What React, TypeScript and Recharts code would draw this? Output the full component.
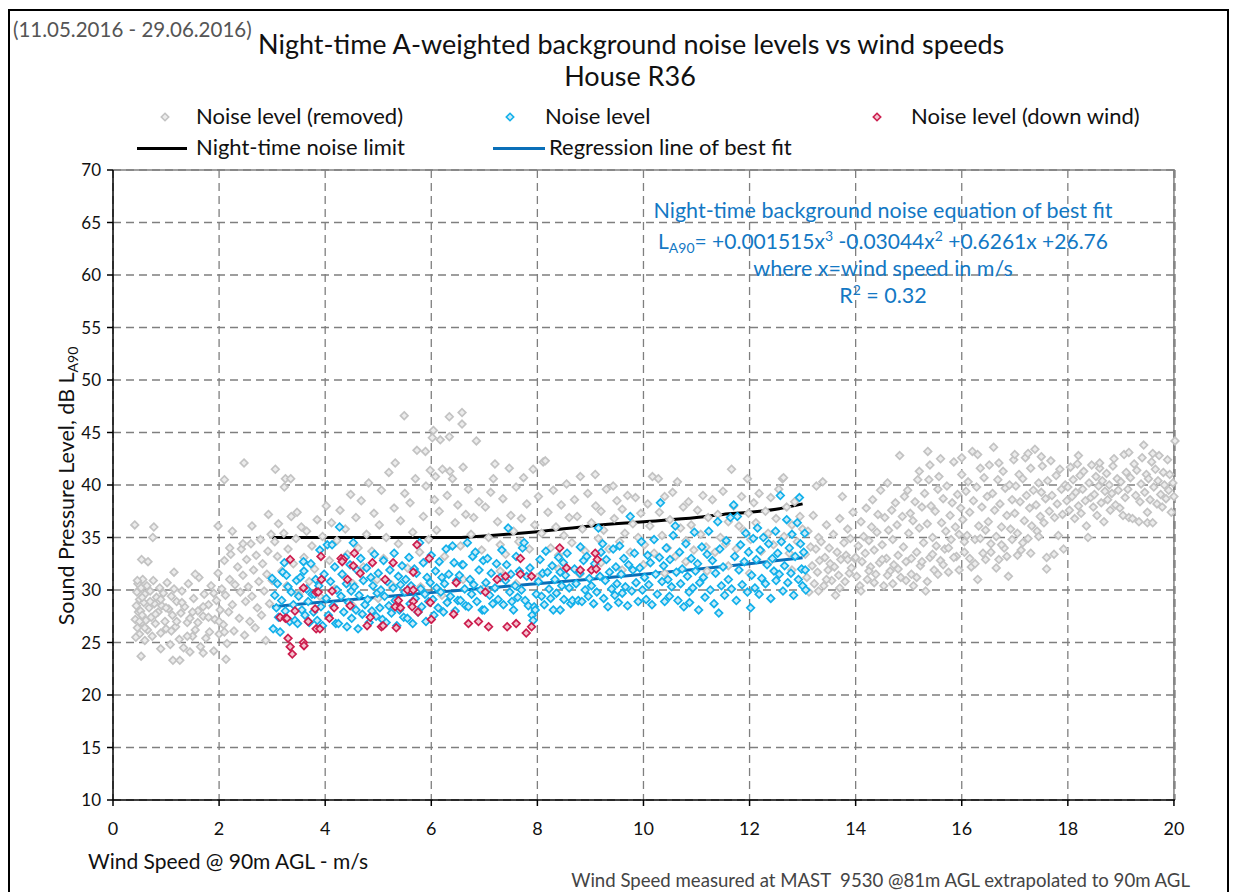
import React from "react"
import {
  ComposedChart,
  Scatter,
  Line,
  XAxis,
  YAxis,
  CartesianGrid,
  ReferenceLine,
} from "recharts"

// wind speed (m/s), LA90 (dB)
const removedPoints: [number, number][] = [
  [0.42, 27.2], [0.44, 28.5], [0.45, 29.8], [0.46, 26.4], [0.47, 30.6], [0.48, 27.9], [0.5, 25.8], [0.5, 29.1],
  [0.52, 28.0], [0.53, 30.2], [0.54, 26.9], [0.55, 27.6], [0.56, 31.0], [0.58, 28.8], [0.6, 25.2], [0.6, 29.6],
  [0.62, 27.1], [0.64, 30.4], [0.65, 26.2], [0.68, 28.3], [0.7, 29.9], [0.72, 27.4], [0.74, 25.6], [0.76, 30.9],
  [0.78, 28.7], [0.8, 26.8], [0.82, 29.3], [0.85, 27.9], [0.88, 30.2], [0.9, 25.9], [0.92, 28.5], [0.95, 29.7],
  [0.98, 27.0], [1.0, 26.3], [1.02, 30.7], [1.05, 28.2], [1.08, 24.8], [1.1, 29.4], [1.12, 27.6], [1.15, 30.1],
  [1.18, 26.5], [1.2, 28.9], [1.25, 25.3], [1.28, 27.8], [1.3, 29.9], [1.33, 24.5], [1.35, 28.4], [1.4, 26.9],
  [1.42, 30.6], [1.45, 27.3], [1.5, 25.6], [1.52, 29.2], [1.55, 26.2], [1.6, 28.0], [1.62, 31.2], [1.65, 24.6],
  [1.7, 27.5], [1.72, 29.6], [1.75, 25.4], [1.8, 28.6], [1.82, 26.0], [1.85, 30.4], [1.9, 24.2], [1.92, 27.2],
  [1.95, 29.0], [1.98, 31.6], [2.0, 25.8], [2.02, 28.1], [2.05, 30.1], [2.08, 26.7], [2.1, 32.8], [2.12, 29.5],
  [2.15, 24.9], [2.18, 27.9], [2.2, 31.0], [2.22, 33.4], [2.25, 28.6], [2.28, 26.1], [2.3, 30.5], [2.35, 32.2],
  [2.38, 27.3], [2.4, 29.8], [2.42, 33.9], [2.45, 31.4], [2.48, 25.7], [2.5, 28.9], [2.52, 32.9], [2.55, 30.3],
  [2.58, 27.0], [2.6, 34.4], [2.62, 29.4], [2.65, 31.9], [2.68, 26.4], [2.7, 33.3], [2.72, 28.3], [2.75, 30.8],
  [2.78, 34.8], [2.8, 27.6], [2.82, 32.5], [2.85, 29.9], [2.88, 25.2], [2.9, 31.5], [2.92, 33.7], [2.95, 28.7],
  [2.98, 35.3], [3.0, 30.9], [1.15, 31.7], [1.55, 31.5], [0.9, 24.4], [1.45, 24.1],
  [0.43, 25.5], [0.46, 30.9], [0.5, 27.0], [0.55, 29.3], [0.6, 26.4], [0.7, 28.9], [0.8, 27.7], [0.9, 29.1],
  [1.0, 28.3], [1.1, 26.1], [1.2, 27.0], [1.3, 28.8], [1.4, 25.6], [1.5, 27.9], [1.6, 26.9], [1.7, 28.4],
  [1.8, 27.4], [1.9, 29.7], [2.0, 27.0], [2.1, 26.0],
  [0.41, 36.2], [0.77, 36.0], [0.75, 35.0], [0.54, 32.9], [0.66, 32.7], [0.53, 23.7], [1.13, 23.3], [1.26, 23.3],
  [2.13, 23.4], [1.7, 24.0], [1.98, 36.1], [2.25, 35.6], [2.62, 36.1], [2.2, 34.0], [2.45, 34.4], [2.1, 40.5],
  [2.47, 42.1], [3.06, 41.5], [3.25, 40.6], [3.35, 40.6], [3.23, 39.8], [2.93, 37.2], [3.47, 37.4],
  [3.05, 34.6], [3.1, 33.2], [3.12, 36.3], [3.18, 31.8], [3.22, 35.4], [3.28, 30.4], [3.3, 33.9], [3.36, 37.0],
  [3.4, 32.5], [3.45, 34.9], [3.5, 29.6], [3.55, 36.0], [3.6, 33.1], [3.65, 35.6], [3.7, 30.8], [3.75, 34.2],
  [3.8, 32.0], [3.85, 36.7], [3.9, 29.4], [3.95, 35.1],
  [4.02, 38.0], [4.08, 32.8], [4.12, 36.4], [4.18, 30.1], [4.22, 34.7], [4.28, 37.6], [4.32, 31.5], [4.38, 35.8],
  [4.42, 33.4], [4.48, 39.1], [4.52, 30.6], [4.58, 36.9], [4.62, 34.0], [4.68, 38.5], [4.72, 32.2], [4.78, 35.3],
  [4.82, 40.2], [4.88, 33.7], [4.92, 37.3], [4.98, 31.0],
  [5.02, 36.2], [5.06, 39.5], [5.1, 33.0], [5.15, 35.0], [5.2, 41.2], [5.25, 30.5], [5.3, 37.8], [5.32, 42.1],
  [5.38, 34.4], [5.42, 36.6], [5.49, 46.6], [5.5, 39.2], [5.55, 32.1], [5.6, 38.3], [5.65, 35.5], [5.7, 40.6],
  [5.73, 43.3], [5.78, 33.6], [5.85, 37.0], [5.89, 43.2], [5.9, 39.9], [5.95, 34.8], [5.98, 41.4],
  [6.02, 44.5], [6.04, 45.2], [6.06, 38.6], [6.08, 40.8], [6.1, 35.7], [6.15, 37.5], [6.17, 44.3], [6.21, 41.5],
  [6.25, 33.2], [6.3, 39.0], [6.34, 46.5], [6.34, 44.6], [6.35, 41.3], [6.4, 40.6], [6.45, 36.4], [6.5, 38.1],
  [6.55, 34.2], [6.58, 46.9], [6.58, 45.8], [6.6, 41.7], [6.65, 37.2], [6.7, 39.6], [6.75, 35.3], [6.8, 36.9],
  [6.85, 44.2], [6.9, 38.4], [6.95, 33.8],
  [7.02, 37.9], [7.08, 35.0], [7.12, 39.3], [7.17, 40.6], [7.2, 42.0], [7.25, 36.5], [7.3, 34.3], [7.35, 38.7],
  [7.4, 33.4], [7.47, 41.6], [7.5, 37.1], [7.55, 35.6], [7.6, 39.8], [7.65, 34.6], [7.7, 36.8], [7.74, 40.7],
  [7.8, 38.2], [7.85, 33.9], [7.92, 41.5], [7.95, 36.2],
  [8.02, 38.9], [8.08, 35.4], [8.11, 42.2], [8.15, 42.3], [8.2, 37.4], [8.25, 34.0], [8.3, 39.5], [8.35, 36.0],
  [8.4, 33.3], [8.45, 38.1], [8.5, 35.2], [8.55, 40.1], [8.6, 36.9], [8.65, 34.5], [8.7, 38.6], [8.75, 37.0],
  [8.81, 40.8], [8.85, 35.8], [8.9, 33.7], [8.95, 39.2],
  [9.02, 36.4], [9.09, 41.0], [9.1, 38.0], [9.15, 34.9], [9.2, 37.5], [9.25, 35.7], [9.3, 39.6], [9.35, 33.9],
  [9.43, 39.9], [9.45, 36.8], [9.5, 38.5], [9.55, 34.6], [9.6, 37.7], [9.65, 35.4], [9.7, 39.0], [9.75, 33.6],
  [9.8, 36.3], [9.85, 38.8], [9.9, 35.0], [9.95, 37.3],
  [10.02, 34.3], [10.08, 38.2], [10.12, 36.1], [10.17, 40.8], [10.2, 33.5], [10.28, 40.6], [10.3, 37.4], [10.35, 35.2],
  [10.4, 38.9], [10.45, 34.0], [10.5, 36.7], [10.55, 39.3], [10.6, 33.2], [10.64, 40.3], [10.7, 35.9], [10.75, 37.9],
  [10.8, 34.7], [10.85, 38.4], [10.9, 36.2], [10.95, 33.8],
  [11.02, 37.6], [11.08, 35.3], [11.12, 39.0], [11.18, 34.1], [11.22, 36.9], [11.3, 38.6], [11.35, 33.6], [11.4, 37.2],
  [11.45, 35.0], [11.5, 39.4], [11.55, 34.4], [11.6, 36.5], [11.66, 41.5], [11.7, 38.0], [11.75, 33.9], [11.8, 36.1],
  [11.85, 38.9], [11.9, 35.6], [11.96, 40.6], [11.98, 37.3],
  [12.02, 34.8], [12.08, 38.3], [12.12, 36.4], [12.18, 39.2], [12.22, 33.7], [12.3, 37.5], [12.35, 35.4], [12.4, 38.8],
  [12.45, 34.3], [12.5, 36.8], [12.55, 39.6], [12.62, 40.6], [12.65, 35.1], [12.7, 37.9], [12.75, 33.5], [12.8, 36.2],
  [12.85, 38.4], [12.9, 34.6], [12.95, 37.0], [13.0, 35.8], [12.64, 40.7],
  [4.5, 28.6], [5.0, 29.2], [5.4, 28.2], [5.8, 30.3], [6.2, 29.5], [6.6, 31.0], [7.0, 30.2], [7.3, 31.8],
  [7.6, 30.6], [8.0, 31.2], [8.4, 32.0], [8.8, 31.5], [9.2, 32.6], [9.6, 31.9], [10.0, 32.4], [10.4, 31.6],
  [10.8, 32.7], [11.2, 31.8], [11.6, 32.3], [12.0, 31.6], [12.4, 32.8], [12.8, 31.9],
  [13.05, 33.4], [13.08, 31.2], [13.1, 35.6], [13.12, 29.8], [13.15, 34.1], [13.18, 32.3], [13.2, 37.1], [13.22, 30.6],
  [13.25, 33.9], [13.26, 39.9], [13.28, 31.7], [13.3, 35.0], [13.32, 32.8], [13.35, 34.6], [13.38, 40.3], [13.4, 30.4],
  [13.42, 33.1], [13.45, 36.2], [13.48, 31.9],
  [13.5, 34.0], [13.52, 32.5], [13.55, 30.9], [13.58, 35.3], [13.62, 29.5], [13.65, 33.6], [13.68, 31.4], [13.7, 36.8],
  [13.72, 32.9], [13.75, 38.9], [13.78, 34.5], [13.8, 30.8], [13.82, 33.3], [13.85, 35.8], [13.88, 31.6], [13.9, 34.9],
  [13.92, 32.1], [13.95, 37.4], [13.98, 33.0],
  [14.02, 31.3], [14.05, 34.2], [14.08, 30.4], [14.1, 36.5], [14.12, 32.7], [14.15, 35.1], [14.18, 33.5], [14.2, 37.8],
  [14.22, 31.0], [14.25, 34.7], [14.28, 32.2], [14.3, 36.0], [14.32, 38.6], [14.35, 33.8], [14.38, 31.5], [14.4, 35.5],
  [14.42, 37.2], [14.45, 32.6], [14.47, 39.5],
  [14.5, 34.3], [14.53, 30.4], [14.55, 36.9], [14.58, 33.0], [14.6, 40.2], [14.62, 35.7], [14.65, 31.8], [14.68, 37.6],
  [14.7, 34.8], [14.72, 32.4], [14.75, 38.3], [14.78, 36.2], [14.8, 33.3], [14.83, 42.8], [14.85, 31.2], [14.88, 37.0],
  [14.9, 34.1], [14.92, 38.9], [14.95, 32.7], [14.98, 39.5],
  [15.0, 35.4], [15.03, 37.3], [15.05, 31.5], [15.08, 36.6], [15.09, 30.4], [15.12, 38.4], [15.15, 33.6], [15.17, 40.5],
  [15.2, 35.9], [15.22, 32.3], [15.25, 37.9], [15.28, 34.5], [15.3, 39.2], [15.32, 29.9], [15.35, 36.3], [15.36, 43.2],
  [15.38, 40.5], [15.4, 33.1], [15.42, 38.0], [15.45, 35.0], [15.48, 31.9],
  [15.5, 37.5], [15.52, 34.2], [15.55, 39.6], [15.57, 40.8], [15.6, 32.8], [15.62, 36.4], [15.65, 38.7], [15.68, 33.9],
  [15.7, 35.6], [15.72, 39.9], [15.75, 31.7], [15.78, 37.1], [15.8, 34.8], [15.82, 38.3], [15.85, 42.2], [15.88, 36.0],
  [15.9, 33.2], [15.92, 39.1], [15.95, 35.3], [15.98, 37.8],
  [16.0, 41.0], [16.02, 36.7], [16.05, 33.6], [16.08, 39.4], [16.1, 35.2], [16.12, 40.3], [16.15, 37.4], [16.18, 32.2],
  [16.2, 43.2], [16.22, 38.5], [16.25, 34.8], [16.28, 39.8], [16.3, 31.0], [16.32, 36.1], [16.35, 41.6], [16.38, 37.9],
  [16.4, 33.5], [16.42, 40.7], [16.45, 35.7], [16.48, 38.9],
  [16.5, 36.5], [16.52, 41.9], [16.55, 34.4], [16.58, 39.2], [16.6, 43.6], [16.62, 37.6], [16.65, 35.1], [16.68, 40.5],
  [16.7, 32.9], [16.72, 38.2], [16.75, 36.0], [16.78, 41.3], [16.8, 34.0], [16.82, 39.7], [16.85, 37.1], [16.88, 31.3],
  [16.9, 40.0], [16.92, 35.8], [16.95, 38.6], [16.98, 42.4],
  [17.0, 37.3], [17.02, 39.9], [17.05, 35.4], [17.08, 41.0], [17.1, 38.4], [17.12, 33.8], [17.15, 40.6], [17.18, 36.6],
  [17.2, 42.6], [17.22, 39.0], [17.25, 34.9], [17.28, 37.8], [17.3, 41.6], [17.32, 36.1], [17.35, 39.5], [17.38, 43.4],
  [17.4, 38.1], [17.42, 35.6], [17.45, 40.2], [17.48, 37.0],
  [17.5, 39.3], [17.52, 41.8], [17.55, 36.4], [17.58, 38.7], [17.6, 32.0], [17.6, 33.1], [17.62, 40.4], [17.65, 37.5],
  [17.68, 42.3], [17.7, 39.0], [17.74, 33.4], [17.75, 36.9], [17.78, 40.9], [17.8, 38.2], [17.82, 35.2], [17.85, 41.5],
  [17.88, 39.6], [17.9, 37.2], [17.92, 33.9], [17.95, 40.0], [17.98, 38.5],
  [18.0, 39.8], [18.03, 37.6], [18.05, 41.7], [18.08, 38.9], [18.1, 40.5], [18.13, 36.8], [18.15, 39.3], [18.18, 42.0],
  [18.2, 38.0], [18.23, 40.9], [18.25, 37.3], [18.28, 39.6], [18.3, 41.3], [18.33, 38.5], [18.35, 36.1], [18.38, 35.0],
  [18.4, 40.2], [18.43, 38.8], [18.45, 41.9], [18.48, 37.9],
  [18.5, 39.1], [18.53, 40.8], [18.55, 37.1], [18.58, 39.9], [18.6, 41.6], [18.63, 38.3], [18.65, 40.4], [18.68, 36.5],
  [18.7, 39.4], [18.73, 41.1], [18.75, 38.6], [18.78, 40.0], [18.8, 37.6], [18.83, 39.2], [18.85, 41.8], [18.87, 42.5],
  [18.9, 38.1], [18.93, 40.6], [18.95, 39.5], [18.98, 37.8],
  [19.0, 40.3], [19.04, 37.1], [19.06, 42.9], [19.08, 38.8], [19.1, 41.2], [19.13, 39.6], [19.15, 36.9], [19.18, 40.7],
  [19.22, 36.8], [19.25, 42.0], [19.28, 39.0], [19.3, 41.4], [19.34, 36.5], [19.36, 38.4], [19.38, 40.1], [19.4, 42.6],
  [19.43, 43.8], [19.45, 39.3], [19.48, 41.0],
  [19.5, 37.4], [19.5, 36.4], [19.52, 40.6], [19.55, 38.6], [19.58, 42.2], [19.6, 36.4], [19.62, 39.8], [19.65, 41.5],
  [19.68, 38.2], [19.7, 40.4], [19.72, 42.8], [19.75, 39.1], [19.78, 37.9], [19.8, 41.2], [19.82, 40.0], [19.85, 38.7],
  [19.88, 42.4], [19.9, 39.5], [19.92, 41.0], [19.95, 37.4], [19.98, 40.2], [20.0, 38.9], [20.02, 44.2],
  [13.3, 29.9], [13.45, 31.0], [13.6, 32.2], [13.7, 30.2], [13.85, 32.9], [14.0, 33.1], [14.1, 29.9], [14.25, 31.8],
  [14.35, 30.7], [14.5, 32.9], [14.6, 31.4], [14.7, 30.6], [14.8, 32.0], [14.95, 30.9], [15.05, 33.0], [15.15, 31.2],
  [15.25, 32.7], [15.35, 30.8], [15.45, 33.4], [15.55, 31.5], [15.65, 32.4], [15.75, 34.0], [15.85, 33.1], [15.95, 31.9],
  [16.05, 34.6], [16.15, 33.0], [16.25, 32.5], [16.35, 34.9], [16.45, 32.9], [16.55, 33.6], [16.65, 32.1], [16.75, 34.3],
  [16.85, 33.2], [16.95, 34.8], [17.05, 33.3], [17.15, 34.5], [17.3, 33.5], [17.45, 35.1],
  [15.2, 41.3], [15.4, 41.9], [15.6, 42.5], [16.0, 42.6], [16.3, 42.9], [16.7, 42.1], [17.0, 42.9], [17.25, 43.0],
  [17.5, 42.7], [18.2, 42.8], [18.6, 42.1], [19.15, 43.1], [19.6, 43.0],
]

const noisePoints: [number, number][] = [
  [3.0, 31.1], [3.02, 26.3], [3.05, 29.5], [3.08, 28.3], [3.1, 30.6], [3.12, 27.4], [3.15, 26.0], [3.18, 29.0],
  [3.2, 31.7], [3.23, 32.6], [3.25, 28.0], [3.27, 31.4], [3.3, 30.3], [3.33, 27.0], [3.36, 29.8], [3.4, 28.6],
  [3.43, 27.1], [3.46, 30.9], [3.48, 26.8],
  [3.5, 29.4], [3.53, 31.2], [3.56, 28.1], [3.59, 32.7], [3.6, 31.8], [3.62, 27.6], [3.65, 30.1], [3.68, 28.9],
  [3.7, 26.9], [3.73, 32.5], [3.75, 29.6], [3.78, 27.9], [3.8, 29.6], [3.82, 31.0], [3.85, 27.1], [3.88, 30.4],
  [3.9, 33.8], [3.92, 28.4], [3.95, 26.6], [3.98, 31.5],
  [4.02, 29.2], [4.04, 34.3], [4.06, 27.6], [4.1, 30.8], [4.13, 34.3], [4.15, 28.5], [4.18, 32.2], [4.2, 26.8],
  [4.22, 30.0], [4.25, 26.8], [4.27, 36.0], [4.3, 29.4], [4.32, 31.5], [4.35, 27.9], [4.38, 33.1], [4.4, 30.6],
  [4.41, 26.5], [4.44, 28.8], [4.47, 32.4], [4.49, 29.9],
  [4.5, 27.3], [4.53, 34.5], [4.55, 30.3], [4.58, 28.1], [4.6, 31.9], [4.62, 26.3], [4.64, 29.5], [4.67, 33.0],
  [4.7, 27.7], [4.72, 30.9], [4.75, 28.6], [4.78, 32.1], [4.8, 29.1], [4.83, 26.9], [4.86, 31.2], [4.88, 28.0],
  [4.9, 30.4], [4.93, 33.4], [4.96, 27.5], [4.98, 29.7],
  [5.0, 31.6], [5.03, 28.3], [5.05, 30.0], [5.08, 27.2], [5.1, 32.8], [5.12, 29.4], [5.15, 26.9], [5.17, 30.8],
  [5.2, 28.5], [5.22, 31.9], [5.25, 27.8], [5.28, 30.2], [5.3, 33.5], [5.32, 29.0], [5.35, 26.6], [5.38, 31.3],
  [5.4, 28.1], [5.42, 30.5], [5.45, 32.3], [5.48, 27.4],
  [5.5, 29.8], [5.52, 31.0], [5.55, 27.3], [5.58, 33.1], [5.6, 28.7], [5.62, 30.4], [5.65, 26.8], [5.68, 32.0],
  [5.7, 29.2], [5.72, 31.6], [5.75, 27.9], [5.78, 34.5], [5.8, 30.1], [5.82, 28.4], [5.85, 32.6], [5.88, 29.6],
  [5.9, 27.0], [5.92, 31.2], [5.95, 28.9], [5.98, 30.7],
  [6.0, 33.3], [6.03, 29.1], [6.05, 27.6], [6.08, 31.8], [6.1, 30.2], [6.13, 28.3], [6.15, 32.7], [6.18, 29.8],
  [6.2, 31.2], [6.23, 27.9], [6.25, 30.6], [6.28, 33.9], [6.3, 28.8], [6.33, 31.5], [6.36, 29.4], [6.4, 34.2],
  [6.43, 32.6], [6.45, 28.0], [6.48, 30.9],
  [6.5, 29.0], [6.53, 31.4], [6.55, 29.0], [6.58, 32.4], [6.6, 32.4], [6.63, 30.1], [6.65, 28.5], [6.68, 34.5],
  [6.7, 28.4], [6.73, 31.0], [6.76, 29.6], [6.78, 33.2], [6.8, 30.5], [6.83, 33.6], [6.86, 28.9], [6.9, 31.9],
  [6.93, 30.0], [6.96, 28.1], [6.98, 32.8],
  [7.0, 28.1], [7.03, 30.7], [7.06, 33.0], [7.1, 29.5], [7.13, 31.6], [7.16, 28.7], [7.2, 30.2], [7.23, 32.5],
  [7.26, 29.1], [7.3, 31.2], [7.33, 33.8], [7.36, 28.6], [7.4, 30.9], [7.42, 32.4], [7.45, 35.9], [7.48, 29.8],
  [7.5, 31.5], [7.52, 28.9], [7.55, 28.1], [7.58, 30.4], [7.6, 33.2], [7.63, 29.3], [7.66, 31.8], [7.7, 30.0],
  [7.72, 34.0], [7.75, 34.5], [7.77, 29.0], [7.8, 31.3], [7.83, 28.5], [7.86, 32.1], [7.9, 27.6], [7.92, 27.1],
  [7.94, 28.4], [7.96, 28.1], [7.98, 29.6],
  [8.02, 30.8], [8.05, 32.9], [8.08, 29.4], [8.1, 31.6], [8.13, 28.6], [8.16, 33.7], [8.19, 31.7], [8.22, 30.1],
  [8.25, 29.2], [8.28, 32.3], [8.3, 28.1], [8.33, 31.0], [8.36, 29.7], [8.4, 33.1], [8.43, 31.7], [8.43, 28.1],
  [8.46, 30.4], [8.49, 32.6],
  [8.5, 29.1], [8.53, 31.4], [8.56, 33.5], [8.6, 30.2], [8.63, 28.7], [8.66, 29.0], [8.7, 32.0], [8.73, 30.6],
  [8.77, 29.0], [8.8, 31.6], [8.81, 34.1], [8.84, 28.9], [8.87, 32.8], [8.9, 30.0], [8.93, 33.2], [8.96, 29.4],
  [8.98, 31.1],
  [9.02, 30.4], [9.06, 28.7], [9.08, 32.5], [9.12, 29.8], [9.15, 35.9], [9.18, 31.3], [9.2, 33.6], [9.23, 34.4],
  [9.25, 29.2], [9.28, 30.9], [9.3, 32.9], [9.33, 28.4], [9.36, 31.7], [9.4, 30.1], [9.43, 33.9], [9.46, 29.5],
  [9.48, 32.2],
  [9.5, 30.6], [9.53, 28.8], [9.55, 34.2], [9.58, 31.5], [9.6, 29.7], [9.63, 33.0], [9.66, 30.3], [9.7, 28.5],
  [9.72, 32.4], [9.75, 37.0], [9.78, 29.9], [9.8, 31.9], [9.83, 33.5], [9.86, 30.7], [9.9, 28.9], [9.93, 32.1],
  [9.96, 34.6], [9.98, 30.0],
  [10.02, 31.2], [10.05, 29.1], [10.08, 33.3], [10.1, 30.5], [10.13, 32.6], [10.16, 28.6], [10.2, 34.8], [10.23, 31.5],
  [10.26, 29.6], [10.3, 33.1], [10.32, 38.3], [10.35, 30.8], [10.38, 32.3], [10.4, 28.9], [10.43, 34.0], [10.46, 31.0],
  [10.49, 29.4],
  [10.5, 32.9], [10.53, 30.3], [10.56, 35.2], [10.6, 36.1], [10.62, 31.7], [10.65, 29.0], [10.68, 33.6], [10.7, 30.6],
  [10.73, 32.0], [10.76, 28.4], [10.8, 34.4], [10.83, 31.3], [10.86, 29.8], [10.87, 28.8], [10.9, 33.0], [10.93, 30.2],
  [10.96, 35.5], [10.98, 31.8],
  [11.02, 32.5], [11.04, 28.1], [11.06, 30.7], [11.1, 34.1], [11.13, 31.2], [11.16, 29.3], [11.2, 33.4], [11.23, 35.6],
  [11.26, 30.0], [11.3, 32.8], [11.33, 28.7], [11.36, 31.6], [11.4, 36.5], [11.42, 27.8], [11.44, 33.9], [11.47, 30.4],
  [11.5, 32.2], [11.53, 29.5], [11.56, 34.7], [11.6, 31.0], [11.64, 36.9], [11.66, 30.1], [11.7, 38.1], [11.72, 33.2],
  [11.75, 29.0], [11.77, 37.0], [11.8, 31.9], [11.83, 34.3], [11.86, 30.5], [11.9, 32.7], [11.93, 35.4], [11.96, 29.8],
  [11.98, 33.6],
  [12.02, 28.3], [12.04, 31.4], [12.07, 34.9], [12.1, 30.2], [12.13, 32.9], [12.15, 35.9], [12.18, 29.6], [12.2, 33.8],
  [12.23, 31.1], [12.26, 35.0], [12.3, 30.6], [12.33, 32.4], [12.36, 34.4], [12.4, 29.2], [12.43, 33.0], [12.46, 31.8],
  [12.49, 35.6],
  [12.5, 30.9], [12.53, 33.5], [12.56, 31.5], [12.58, 39.0], [12.6, 34.6], [12.63, 29.9], [12.66, 32.3], [12.7, 36.7],
  [12.72, 30.7], [12.75, 34.0], [12.78, 31.6], [12.8, 35.3], [12.83, 29.5], [12.86, 33.2], [12.9, 36.4], [12.92, 31.0],
  [12.94, 38.8], [12.96, 34.4], [12.98, 32.0], [13.0, 30.4], [13.02, 33.6], [13.04, 35.4], [13.06, 30.0], [13.05, 31.9],
]

const downWindPoints: [number, number][] = [
  [3.34, 32.9], [3.15, 27.4], [3.25, 27.3], [3.28, 27.3], [3.3, 25.4], [3.34, 24.6], [3.38, 23.9], [3.59, 25.0],
  [3.6, 24.7], [3.43, 28.0], [3.59, 30.2], [3.68, 27.0], [3.92, 33.2], [3.93, 31.0], [3.83, 29.8], [3.87, 29.8],
  [3.81, 28.2], [3.83, 26.3], [3.9, 26.3], [4.08, 27.3], [4.13, 29.9], [4.17, 28.3], [4.3, 33.0], [4.34, 32.9],
  [4.32, 32.7], [4.55, 33.5], [4.53, 32.3], [4.66, 31.6], [4.42, 31.0], [4.47, 28.5], [4.89, 32.6], [4.85, 27.4],
  [4.79, 26.6], [5.06, 26.5], [5.13, 31.0], [5.73, 34.3], [5.96, 33.0], [5.28, 32.6], [5.66, 31.7], [5.55, 30.0],
  [5.66, 30.0], [5.38, 29.0], [5.32, 28.4], [5.42, 28.3], [5.66, 28.9], [5.64, 28.4], [5.75, 27.9], [5.98, 28.8],
  [5.09, 26.6], [5.34, 26.4], [6.0, 27.2], [6.42, 27.7], [6.47, 30.7], [6.7, 26.8], [6.89, 27.0], [7.08, 26.5],
  [7.02, 29.8], [7.24, 31.0], [7.4, 31.3], [7.43, 26.5], [7.6, 26.8], [7.68, 31.5], [7.89, 31.3], [7.68, 33.0],
  [7.79, 25.9], [7.89, 26.5], [8.42, 34.0], [8.55, 32.1], [8.81, 31.9], [9.02, 31.9], [9.11, 32.0], [9.09, 33.5],
  [9.13, 32.9],
]

const limitX = [3, 4, 5, 6, 6.5, 7, 8, 9, 10, 11, 11.5, 12, 12.5, 13]
const limitY = [35.0, 35.0, 35.0, 35.0, 35.0, 35.15, 35.55, 36.1, 36.5, 36.9, 37.2, 37.4, 37.7, 38.2]

const fitX = [3, 4, 5, 6, 7, 8, 9, 10, 11, 12, 13]
const fitY = [28.41, 28.87, 29.32, 29.75, 30.17, 30.6, 31.03, 31.49, 31.98, 32.51, 33.08]

const xTicks = [0, 2, 4, 6, 8, 10, 12, 14, 16, 18, 20]
const yTicks = [10, 15, 20, 25, 30, 35, 40, 45, 50, 55, 60, 65, 70]

const toRows = (pts: [number, number][]) => pts.map(([x, y]) => ({ x, y }))
const removedData = toRows(removedPoints)
const noiseData = toRows(noisePoints)
const downWindData = toRows(downWindPoints)
const limitData = limitX.map((x, i) => ({ x, y: limitY[i] }))
const fitData = fitX.map((x, i) => ({ x, y: fitY[i] }))

const FONT = "Lato, 'Open Sans', sans-serif"

const diamond = (stroke: string, fill: string) => (props: any) => {
  const { cx, cy } = props
  if (cx == null || cy == null) return <g />
  const r = 3.8
  return (
    <path
      d={`M${cx},${cy - r}L${cx + r},${cy}L${cx},${cy + r}L${cx - r},${cy}Z`}
      stroke={stroke}
      strokeWidth={1.7}
      fill={fill}
    />
  )
}

const GREY = ["#c3c3c3", "#ececec"]
const BLUE = ["#12b0ea", "#c9ebf8"]
const RED = ["#cc1d4e", "#f3c3cf"]

function LegendDiamond({ c, left, top }: { c: string[]; left: number; top: number }) {
  return (
    <svg style={{ position: "absolute", left: left - 5, top: top - 5 }} width={10} height={10}>
      <path d="M5,1.3L8.7,5L5,8.7L1.3,5Z" stroke={c[0]} strokeWidth={1.6} fill={c[1]} />
    </svg>
  )
}

const abs = (left: number, top: number, extra: React.CSSProperties = {}): React.CSSProperties => ({
  position: "absolute",
  left,
  top,
  whiteSpace: "nowrap",
  fontFamily: FONT,
  lineHeight: 1,
  ...extra,
})

const SUB: React.CSSProperties = { fontSize: 14, verticalAlign: -4, lineHeight: 0 }
const SUP: React.CSSProperties = { fontSize: 14, verticalAlign: 8, lineHeight: 0 }

export default function App() {
  return (
    <div style={{ position: "absolute", left: 0, top: 0, width: 1241, height: 892, background: "#fff", overflow: "hidden" }}>
      <div
        style={{
          position: "absolute",
          left: 8,
          top: 9,
          width: 1221,
          height: 900,
          border: "2px solid #000",
          boxSizing: "border-box",
        }}
      />
      <ComposedChart
        width={1241}
        height={892}
        margin={{ top: 170, right: 66, bottom: 62, left: 53 }}
        style={{ position: "absolute", left: 0, top: 0 }}
      >
        <CartesianGrid stroke="#7f7f7f" strokeWidth={1.3} strokeDasharray="8 5" />
        <XAxis
          type="number"
          dataKey="x"
          domain={[0, 20]}
          ticks={xTicks}
          interval={0}
          height={30}
          tickSize={6}
          tickMargin={16}
          stroke="#000"
          strokeWidth={1.5}
          tick={{ fill: "#111", fontSize: 18, fontFamily: FONT }}
        />
        <YAxis
          type="number"
          dataKey="y"
          domain={[10, 70]}
          ticks={yTicks}
          interval={0}
          width={60}
          tickSize={6}
          tickMargin={6}
          stroke="#000"
          strokeWidth={1.5}
          tick={{ fill: "#111", fontSize: 17, fontFamily: FONT }}
        />
        <ReferenceLine y={70} stroke="#808080" strokeWidth={1.5} />
        <ReferenceLine x={20} stroke="#808080" strokeWidth={1.5} />
        <Scatter data={removedData} shape={diamond(GREY[0], GREY[1])} isAnimationActive={false} />
        <Scatter data={noiseData} shape={diamond(BLUE[0], BLUE[1])} isAnimationActive={false} />
        <Scatter data={downWindData} shape={diamond(RED[0], RED[1])} isAnimationActive={false} />
        <Line
          data={limitData}
          dataKey="y"
          type="monotone"
          stroke="#000"
          strokeWidth={3}
          dot={false}
          isAnimationActive={false}
        />
        <Line
          data={fitData}
          dataKey="y"
          type="monotone"
          stroke="#0a6fb8"
          strokeWidth={3}
          dot={false}
          isAnimationActive={false}
        />
      </ComposedChart>

      <div style={abs(13, 19, { fontSize: 20.5, color: "#555" })}>(11.05.2016 - 29.06.2016)</div>
      <div style={abs(258, 30, { fontSize: 27, color: "#111" })}>
        Night-time A-weighted background noise levels vs wind speeds
      </div>
      <div style={abs(0, 62, { width: 1260, textAlign: "center", fontSize: 27, color: "#111" })}>House R36</div>

      <LegendDiamond c={GREY} left={165} top={117} />
      <div style={abs(196, 105, { fontSize: 22, color: "#111" })}>Noise level (removed)</div>
      <LegendDiamond c={BLUE} left={510} top={117} />
      <div style={abs(545, 105, { fontSize: 22, color: "#111" })}>Noise level</div>
      <LegendDiamond c={RED} left={877} top={117} />
      <div style={abs(911, 105, { fontSize: 22, color: "#111" })}>Noise level (down wind)</div>

      <div style={abs(137, 147, { width: 50, height: 3, background: "#000" })} />
      <div style={abs(196, 136, { fontSize: 22, color: "#111" })}>Night-time noise limit</div>
      <div style={abs(493, 147, { width: 52, height: 3, background: "#0a6fb8" })} />
      <div style={abs(549, 136, { fontSize: 22, color: "#111" })}>Regression line of best fit</div>

      <div style={abs(883, 200, { transform: "translateX(-50%)", fontSize: 21.5, color: "#1378c4" })}>
        Night-time background noise equation of best fit
      </div>
      <div style={abs(883, 230, { transform: "translateX(-50%)", fontSize: 21, color: "#1378c4" })}>
        L<sub style={SUB}>A90</sub>= +0.001515x<sup style={SUP}>3</sup> -0.03044x<sup style={SUP}>2</sup> +0.6261x +26.76
      </div>
      <div style={abs(883, 258, { transform: "translateX(-50%)", fontSize: 21.5, color: "#1378c4" })}>
        where x=wind speed in m/s
      </div>
      <div style={abs(883, 285, { transform: "translateX(-50%)", fontSize: 21.5, color: "#1378c4" })}>
        R<sup style={SUP}>2</sup> = 0.32
      </div>

      <div
        style={abs(67, 486, {
          fontSize: 21.5,
          color: "#111",
          transform: "translate(-50%, -50%) rotate(-90deg)",
        })}
      >
        Sound Pressure Level, dB L<sub style={SUB}>A90</sub>
      </div>

      <div style={abs(88, 850, { fontSize: 21, color: "#111" })}>Wind Speed @ 90m AGL - m/s</div>
      <div style={abs(0, 871, { width: 1190, textAlign: "right", fontSize: 18.6, color: "#444" })}>
        Wind Speed measured at MAST&nbsp; 9530 @81m AGL extrapolated to 90m AGL
      </div>
    </div>
  )
}
